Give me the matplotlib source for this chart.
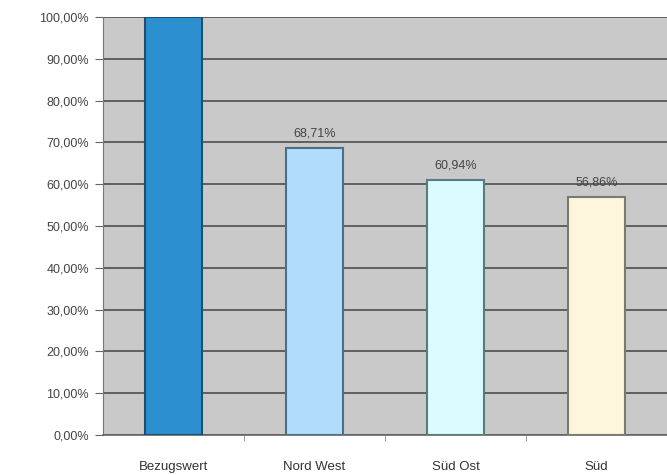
import matplotlib.pyplot as plt
import numpy as np

kategorien = ['Bezugswert', 'Nord West', 'Süd Ost', 'Süd']
werte = [100.0, 68.71, 60.94, 56.86]
farben = ['#2b8fd0', '#b2dcfb', '#dcfbff', '#fdf5dc']
kanten = ['#1f4f6e', '#4a6f88', '#5a7a80', '#7a7a70']
beschriftung = [None, '68,71%', '60,94%', '56,86%']

plt.rcParams['font.family'] = ['Liberation Sans', 'DejaVu Sans']

fig = plt.figure(figsize=(6.67, 4.75), dpi=100)
ax = fig.add_axes([103 / 667, 40 / 475, 564 / 667, 418 / 475])
ax.set_facecolor('#c9c9c9')

x = np.arange(len(kategorien))
ax.bar(x, werte, width=0.40, color=farben, edgecolor=kanten, linewidth=1.5, zorder=3)

for xi, w, t in zip(x, werte, beschriftung):
    if t:
        ax.text(xi, w + 2.0, t, ha='center', va='bottom', fontsize=9, color='#444444')

ax.set_xlim(-0.5, len(kategorien) - 0.5)
ax.set_ylim(0, 100)
ax.set_yticks(np.arange(0, 101, 10))
ax.set_yticklabels([f'{v:.2f}%'.replace('.', ',') for v in np.arange(0, 101, 10)],
                   fontsize=9, color='#444444')
ax.yaxis.grid(True, color='#585858', linewidth=1.3, zorder=1)
ax.set_axisbelow(True)

ax.set_xticks(x)
ax.set_xticklabels(kategorien, fontsize=9.5, color='#333333')
ax.tick_params(axis='x', length=0, pad=19)
ax.set_xticks(np.arange(0.5, len(kategorien) - 0.5, 1), minor=True)
ax.tick_params(axis='x', which='minor', length=4, color='#888888')
ax.tick_params(axis='y', length=6, color='#666666', pad=4)

for s in ['top', 'right']:
    ax.spines[s].set_visible(False)
ax.spines['left'].set_color('#777777')
ax.spines['bottom'].set_color('#666666')
ax.spines['bottom'].set_linewidth(1.2)

fig.savefig('out.png', dpi=100)
